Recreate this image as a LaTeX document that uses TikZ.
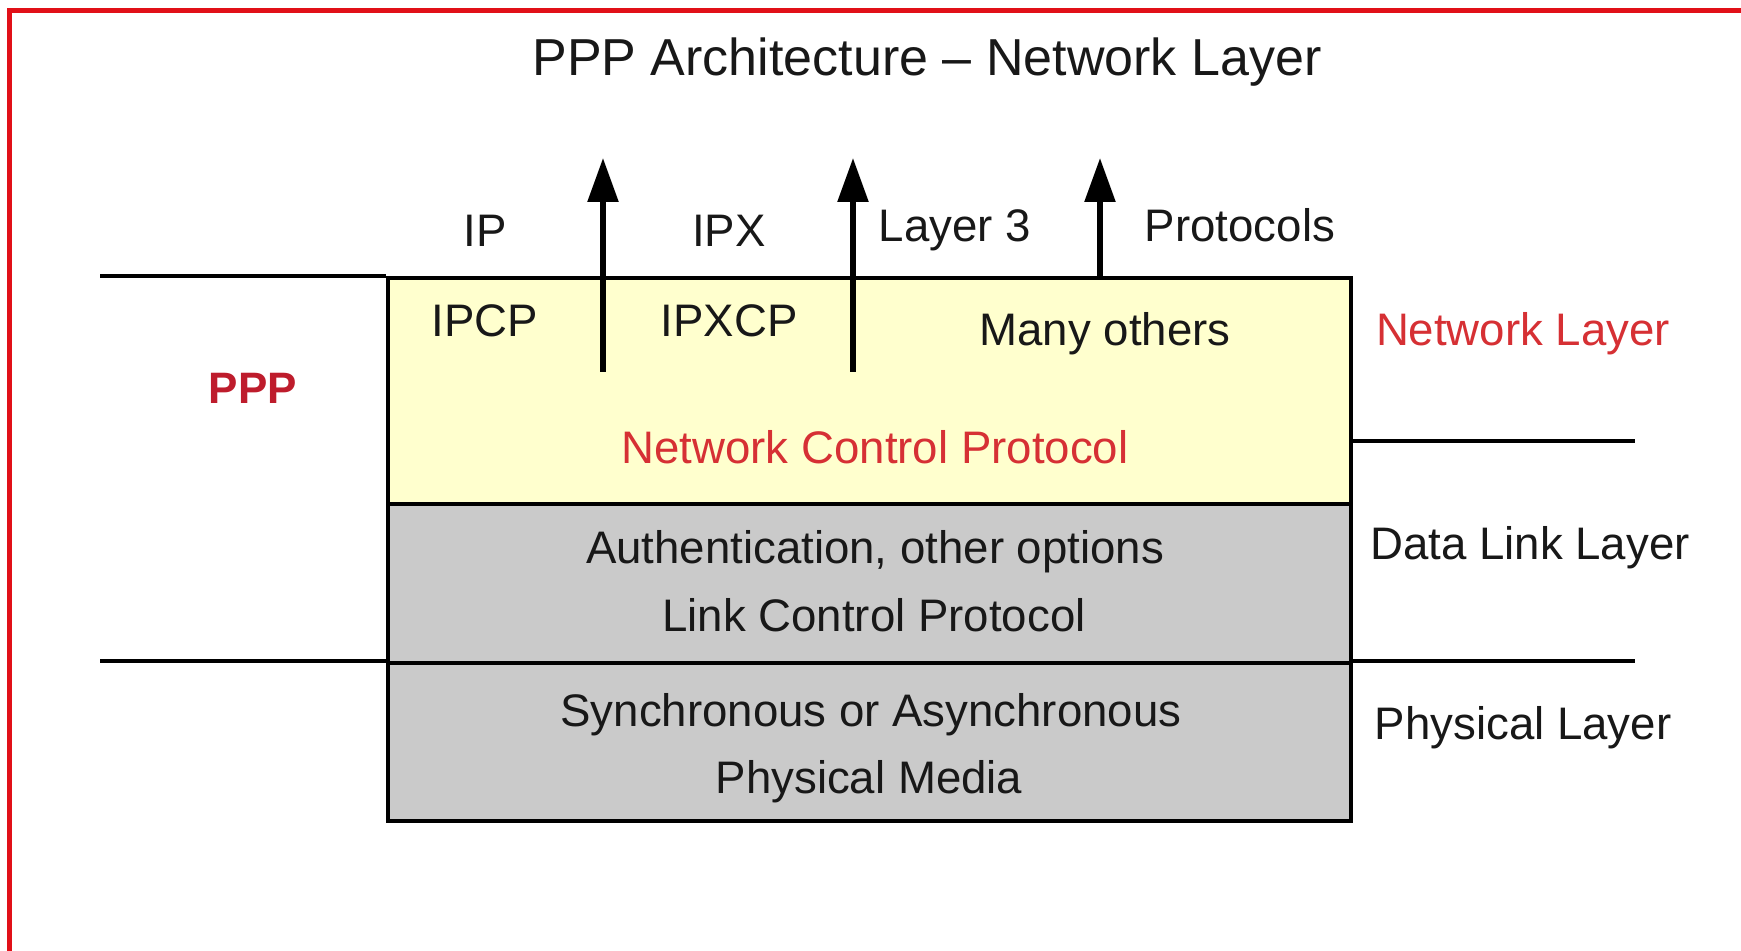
\documentclass[tikz,border=0pt]{standalone}
\usepackage{fontspec}
\setmainfont{Liberation Sans}
\usetikzlibrary{arrows.meta}

\definecolor{frame}{RGB}{225,16,24}
\definecolor{ncpyellow}{RGB}{255,255,206}
\definecolor{lcpgray}{RGB}{202,202,202}
\definecolor{redtext}{RGB}{214,48,52}
\definecolor{pppred}{RGB}{190,28,44}
\definecolor{ink}{RGB}{24,24,24}

\tikzset{
  txt/.style={anchor=base, inner sep=0pt, text=ink, font=\fontsize{22.8pt}{26pt}\selectfont},
  redtxt/.style={txt, text=redtext},
  layerbox/.style={draw=black, line width=1.8pt, inner sep=0pt, anchor=north west},
  rule/.style={draw=black, line width=1.8pt},
  uparrow/.style={draw=black, line width=2.8pt, -{Triangle[length=22pt,width=15pt]}},
}

\begin{document}
\begin{tikzpicture}[x=0.5pt, y=-0.5pt]
  \useasboundingbox (0,0) rectangle (1741,951);
  \fill[white] (0,0) rectangle (1741,951);

  % red frame on top and left
  \fill[frame] (7,8) rectangle (1741,13);
  \fill[frame] (7,8) rectangle (12,951);

  % title
  \node[txt, font=\fontsize{26pt}{30pt}\selectfont] (title) at (927,76) {PPP Architecture – Network Layer};

  % protocol stack
  \node[layerbox, fill=ncpyellow, minimum width=481.5pt, minimum height=113pt] (ncp) at (386,276) {};
  \node[layerbox, fill=lcpgray, minimum width=481.5pt, minimum height=79.5pt] (lcp) at (386,502) {};
  \node[layerbox, fill=lcpgray, minimum width=481.5pt, minimum height=79pt] (phy) at (386,661) {};

  % layer separators
  \coordinate (l1a) at (100,276);
  \coordinate (l2a) at (100,661);
  \coordinate (r1b) at (1635,441);
  \coordinate (r2b) at (1635,661);
  \draw[rule] (l1a) -- (ncp.north west);
  \draw[rule] (l2a) -- (phy.north west);
  \draw[rule] (ncp.east |- r1b) -- (r1b);
  \draw[rule] (phy.north east) -- (r2b);

  % arrows up to layer 3 protocols
  \coordinate (a1s) at (603,372);
  \coordinate (a1e) at (603,158);
  \coordinate (a2s) at (853,372);
  \coordinate (a2e) at (853,158);
  \coordinate (a3s) at (1100,276);
  \coordinate (a3e) at (1100,158);
  \draw[uparrow] (a1s) -- (a1e);
  \draw[uparrow] (a2s) -- (a2e);
  \draw[uparrow] (a3s) -- (a3e);

  % labels above the stack
  \node[txt] (ip) at (485,247) {IP};
  \node[txt] (ipx) at (729,247) {IPX};
  \node[txt] (l3) at (955,242) {Layer 3};
  \node[txt] (prot) at (1240,242) {Protocols};

  % network control protocols
  \node[txt] (ipcp) at (485,337) {IPCP};
  \node[txt] (ipxcp) at (729,337) {IPXCP};
  \node[txt] (many) at (1105,346) {Many others};
  \node[redtxt] (ncpname) at (875,464) {Network Control Protocol};

  % link control protocol
  \node[txt] (auth) at (875,564) {Authentication, other options};
  \node[txt] (lcpname) at (874,632) {Link Control Protocol};

  % physical
  \node[txt] (sync) at (871,726) {Synchronous or Asynchronous};
  \node[txt] (media) at (869,793) {Physical Media};

  % side labels
  \node[txt, text=pppred, font=\bfseries\fontsize{22pt}{26pt}\selectfont] (ppp) at (253,404) {PPP};
  \node[redtxt] (netlayer) at (1523,346) {Network Layer};
  \node[txt] (dll) at (1530,560) {Data Link Layer};
  \node[txt] (phylayer) at (1523,740) {Physical Layer};
\end{tikzpicture}
\end{document}
